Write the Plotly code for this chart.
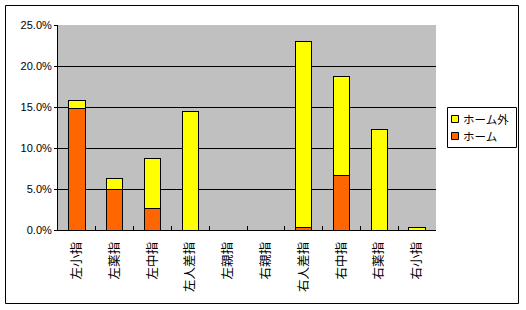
import plotly.graph_objects as go

categories = ["左小指", "左薬指", "左中指", "左人差指", "左親指", "右親指", "右人差指", "右中指", "右薬指", "右小指"]
home = [0.148, 0.050, 0.0265, 0.0, 0.0, 0.0, 0.003, 0.067, 0.0, 0.0]
away = [0.010, 0.013, 0.061, 0.145, 0.0, 0.0, 0.227, 0.1205, 0.123, 0.003]
series_names = ["ホーム", "ホーム外"]
ytick_vals = [0, 0.05, 0.10, 0.15, 0.20, 0.25]

colors = {"ホーム": "#ff6600", "ホーム外": "#ffff00"}
JP = "Noto Sans CJK JP, MS PGothic, sans-serif"

W, H = 526, 310
L, R, T, B = 58, 436, 25, 230

def px_x(p):
    return (p - L) / (R - L)

def px_y(p):
    return (B - p) / (B - T)

fig = go.Figure()
for name, vals in zip(series_names, [home, away]):
    fig.add_trace(go.Bar(x=categories, y=vals, name=name,
                         marker=dict(color=colors[name], line=dict(color="black", width=1)),
                         showlegend=False))

shapes = []
annotations = []
# outer chart border
shapes.append(dict(type="rect", xref="paper", yref="paper",
                   x0=px_x(5.5), x1=px_x(518.5), y0=px_y(303.5), y1=px_y(5.5),
                   line=dict(color="black", width=1), fillcolor="rgba(0,0,0,0)", layer="above"))
# legend box
shapes.append(dict(type="rect", xref="paper", yref="paper",
                   x0=px_x(447.5), x1=px_x(516.5), y0=px_y(147.5), y1=px_y(107.5),
                   line=dict(color="black", width=1), fillcolor="white"))
legend_order = ["ホーム外", "ホーム"]
line_h = 17
top_c = 119
for i, name in enumerate(legend_order):
    cy = top_c + i * line_h
    shapes.append(dict(type="rect", xref="paper", yref="paper",
                       x0=px_x(451.5), x1=px_x(458.5), y0=px_y(cy + 3.5), y1=px_y(cy - 3.5),
                       line=dict(color="black", width=1), fillcolor=colors[name]))
    annotations.append(dict(xref="paper", yref="paper", x=px_x(461), y=px_y(cy),
                            xanchor="left", yanchor="middle", align="left",
                            text=name, showarrow=False,
                            font=dict(family=JP, size=11.5, color="black")))

fig.update_layout(
    barmode="stack",
    bargap=0.57,
    width=W, height=H,
    margin=dict(l=L, r=W - R, t=T, b=H - B, pad=0),
    paper_bgcolor="white",
    plot_bgcolor="#c0c0c0",
    shapes=shapes,
    annotations=annotations,
    font=dict(family=JP, color="black"),
)
fig.update_yaxes(range=[0, 0.25], tickvals=ytick_vals, tickformat=".1%",
                 showgrid=True, gridcolor="black", gridwidth=1,
                 showline=True, linecolor="black", linewidth=1,
                 ticks="outside", ticklen=3, tickcolor="black",
                 tickfont=dict(family="Liberation Sans, Arial, sans-serif", size=11, color="black"),
                 zeroline=False)
fig.update_xaxes(tickangle=-90, showline=True, linecolor="black", linewidth=1,
                 ticks="inside", tickson="boundaries", ticklen=4, tickcolor="black",
                 tickfont=dict(family=JP, size=12.5, color="black"),
                 ticklabelstandoff=6, showgrid=False)

fig.write_html("out.html")
